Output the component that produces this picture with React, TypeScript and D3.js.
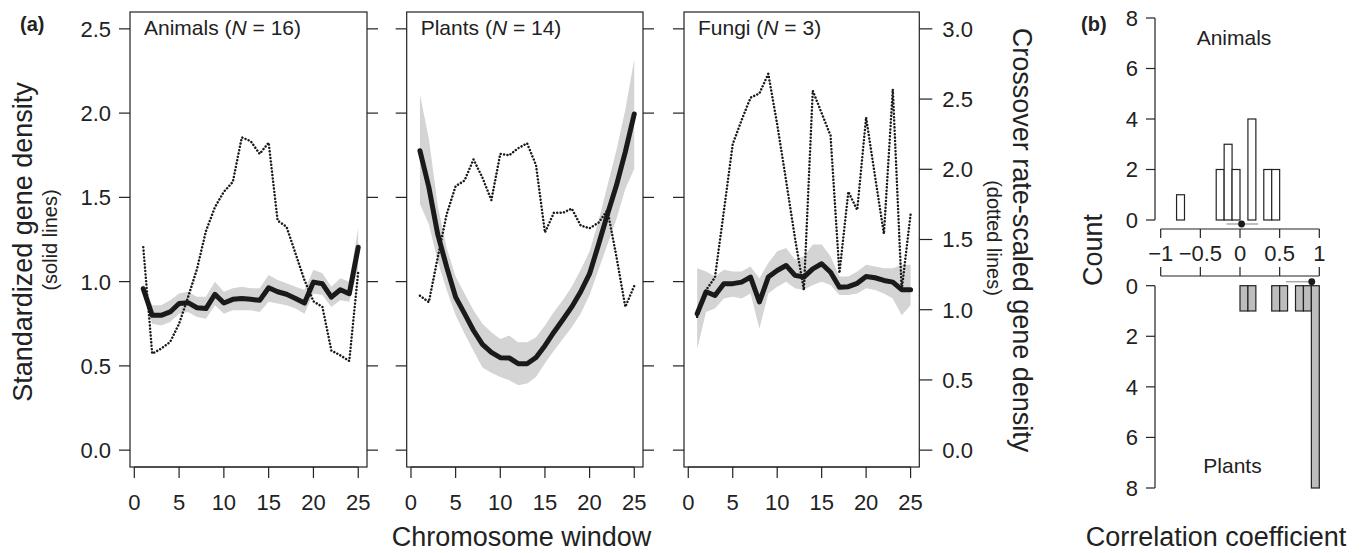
import * as d3 from "d3";

// ---------------------------------------------------------------------------
// DATA
// ---------------------------------------------------------------------------
const windows = [1, 2, 3, 4, 5, 6, 7, 8, 9, 10, 11, 12, 13, 14, 15, 16, 17, 18, 19, 20, 21, 22, 23, 24, 25];

// standardized gene density (solid), with its grey band
const animalsGene = [0.958, 0.8, 0.8, 0.82, 0.87, 0.875, 0.845, 0.84, 0.925, 0.873, 0.895, 0.9, 0.895, 0.889, 0.964, 0.94, 0.925, 0.9, 0.873, 0.997, 0.987, 0.908, 0.952, 0.928, 1.204];
const animalsLo = [0.92, 0.75, 0.74, 0.76, 0.81, 0.82, 0.79, 0.78, 0.86, 0.81, 0.83, 0.83, 0.83, 0.82, 0.88, 0.87, 0.86, 0.84, 0.81, 0.93, 0.92, 0.85, 0.89, 0.88, 1.08];
const animalsHi = [0.99, 0.86, 0.86, 0.89, 0.93, 0.94, 0.91, 0.91, 1.0, 0.94, 0.96, 0.97, 0.96, 0.96, 1.04, 1.01, 0.99, 0.97, 0.95, 1.07, 1.05, 0.97, 1.02, 1.0, 1.32];
// crossover rate-scaled gene density (dotted)
const animalsCross = [1.445, 0.687, 0.723, 0.77, 0.9, 1.09, 1.29, 1.56, 1.73, 1.84, 1.91, 2.227, 2.2, 2.11, 2.19, 1.635, 1.59, 1.4, 1.21, 1.06, 1.02, 0.71, 0.675, 0.635, 1.27];

const plantsGene = [1.777, 1.56, 1.28, 1.086, 0.908, 0.81, 0.71, 0.628, 0.58, 0.549, 0.547, 0.513, 0.513, 0.55, 0.62, 0.7, 0.774, 0.85, 0.94, 1.047, 1.22, 1.4, 1.57, 1.77, 1.995];
const plantsLo = [1.46, 1.34, 1.12, 0.95, 0.8, 0.69, 0.59, 0.49, 0.46, 0.434, 0.415, 0.385, 0.395, 0.434, 0.515, 0.59, 0.66, 0.73, 0.81, 0.92, 1.07, 1.22, 1.37, 1.55, 1.67];
const plantsHi = [2.11, 1.85, 1.45, 1.2, 1.03, 0.93, 0.83, 0.75, 0.7, 0.66, 0.68, 0.64, 0.64, 0.67, 0.74, 0.82, 0.89, 0.97, 1.07, 1.18, 1.36, 1.57, 1.78, 2.02, 2.32];
const plantsCross = [1.1, 1.054, 1.374, 1.68, 1.88, 1.92, 2.07, 1.94, 1.78, 2.11, 2.1, 2.15, 2.185, 2.03, 1.55, 1.69, 1.69, 1.72, 1.6, 1.58, 1.62, 1.71, 1.38, 1.02, 1.17];

const fungiGene = [0.81, 0.94, 0.918, 0.988, 0.988, 0.997, 1.027, 0.879, 1.027, 1.066, 1.096, 1.037, 1.027, 1.076, 1.106, 1.056, 0.967, 0.97, 0.99, 1.03, 1.023, 1.007, 0.997, 0.952, 0.952];
const fungiLo = [0.6, 0.82, 0.84, 0.9, 0.91, 0.9, 0.93, 0.72, 0.93, 0.97, 1.0, 0.96, 0.95, 0.98, 1.0, 0.98, 0.92, 0.92, 0.93, 0.96, 0.95, 0.93, 0.9, 0.8, 0.86];
const fungiHi = [1.08, 1.06, 1.03, 1.07, 1.06, 1.06, 1.09, 1.02, 1.11, 1.18, 1.2, 1.13, 1.15, 1.22, 1.22, 1.15, 1.03, 1.03, 1.06, 1.1, 1.09, 1.08, 1.08, 1.1, 1.1];
const fungiCross = [0.95, 1.14, 1.23, 1.7, 2.18, 2.35, 2.51, 2.54, 2.68, 2.32, 1.92, 1.51, 1.14, 2.56, 2.4, 2.24, 1.26, 1.84, 1.71, 2.37, 1.95, 1.54, 2.57, 1.14, 1.68];

const panelNames = ["Animals", "Plants", "Fungi"];
const panelN = [16, 14, 3];

const geneTicks = [0, 0.5, 1, 1.5, 2, 2.5];
const crossTicks = [0, 0.5, 1, 1.5, 2, 2.5, 3];
const windowTicks = [0, 5, 10, 15, 20, 25];

// (b) correlation histograms, bin width 0.1, bins given by their lower edge
const animalBins = [-0.8, -0.7, -0.6, -0.5, -0.4, -0.3, -0.2, -0.1, 0, 0.1, 0.2, 0.3, 0.4];
const animalCounts = [1, 0, 0, 0, 0, 2, 3, 2, 0, 4, 0, 2, 2];
const plantBins = [0, 0.1, 0.4, 0.5, 0.7, 0.8, 0.9];
const plantCounts = [1, 1, 1, 1, 1, 1, 8];
const animalMean = 0.02;
const animalCI = [-0.17, 0.23];
const plantMean = 0.905;
const plantCI = [0.58, 0.95];

const corrTicks = [-1, -0.5, 0, 0.5, 1];
const corrTickLabels = ["\u22121", "\u22120.5", "0", "0.5", "1"];
const countTicks = [0, 2, 4, 6, 8];

// ---------------------------------------------------------------------------
// LAYOUT
// ---------------------------------------------------------------------------
const W = 1362;
const H = 553;
const FONT = "'Liberation Sans', Arial, Helvetica, sans-serif";
const INK = "#222";
const BAND = "#d4d4d4";
const BAR = "#bdbdbd";
const TICK_FS = 22;
const TITLE_FS = 27;
const SUB_FS = 20;

const boxTop = 12;
const boxBottom = 467;
const panelX = [
  [130, 367],
  [406.7, 643],
  [684, 919.3],
];
const TICK = 11;

const yGene = d3.scaleLinear().domain([-0.1, 2.6]).range([boxBottom, boxTop]);
const yCross = d3.scaleLinear().domain([-0.12, 3.12]).range([boxBottom, boxTop]);

const panelData = [
  { gene: animalsGene, lo: animalsLo, hi: animalsHi, cross: animalsCross },
  { gene: plantsGene, lo: plantsLo, hi: plantsHi, cross: plantsCross },
  { gene: fungiGene, lo: fungiLo, hi: fungiHi, cross: fungiCross },
];

// panel b
const xCorr = d3.scaleLinear().domain([-1, 1]).range([1160.7, 1319.3]);
const yTop = d3.scaleLinear().domain([0, 8]).range([220, 18]);
const yBot = d3.scaleLinear().domain([0, 8]).range([285.7, 488]);
const bAxisX = 1155;
const binW = 0.1;

function Panel({ idx }: { idx: number }) {
  const [left, right] = panelX[idx];
  const d = panelData[idx];
  const x = d3.scaleLinear().domain([-0.48, 25.98]).range([left, right]);

  const band = d3
    .area<number>()
    .x((w) => x(w))
    .y0((_, i) => yGene(d.lo[i]))
    .y1((_, i) => yGene(d.hi[i]))(windows);
  const solid = d3
    .line<number>()
    .x((w) => x(w))
    .y((_, i) => yGene(d.gene[i]))(windows);
  const dotted = d3
    .line<number>()
    .x((w) => x(w))
    .y((_, i) => yCross(d.cross[i]))(windows);

  const last = idx === 2;

  return (
    <g>
      <path d={band ?? ""} fill={BAND} stroke="none" />
      <path d={solid ?? ""} fill="none" stroke="#1a1a1a" strokeWidth={5} strokeLinejoin="round" strokeLinecap="round" />
      <path
        d={dotted ?? ""}
        fill="none"
        stroke="#1a1a1a"
        strokeWidth={2.5}
        strokeLinecap="round"
        strokeDasharray="0.01 3.4"
      />

      <rect x={left} y={boxTop} width={right - left} height={boxBottom - boxTop} fill="none" stroke={INK} strokeWidth={1.2} />

      {/* left-side ticks (gene scale) */}
      {geneTicks.map((t) => (
        <line key={"l" + t} x1={left - TICK} x2={left} y1={yGene(t)} y2={yGene(t)} stroke={INK} strokeWidth={1.2} />
      ))}
      {idx === 0 &&
        geneTicks.map((t) => (
          <text key={"lt" + t} x={left - 19} y={yGene(t)} dy="0.36em" textAnchor="end" fontSize={TICK_FS} fill={INK}>
            {t.toFixed(1)}
          </text>
        ))}

      {/* right-side ticks */}
      {!last &&
        geneTicks.map((t) => (
          <line key={"r" + t} x1={right} x2={right + TICK} y1={yGene(t)} y2={yGene(t)} stroke={INK} strokeWidth={1.2} />
        ))}
      {last &&
        crossTicks.map((t) => (
          <g key={"rc" + t}>
            <line x1={right} x2={right + 13} y1={yCross(t)} y2={yCross(t)} stroke={INK} strokeWidth={1.2} />
            <text x={right + 23} y={yCross(t)} dy="0.36em" textAnchor="start" fontSize={TICK_FS} fill={INK}>
              {t.toFixed(1)}
            </text>
          </g>
        ))}

      {/* x axis */}
      <line x1={x(0)} x2={x(25)} y1={boxBottom} y2={boxBottom} stroke={INK} strokeWidth={1.2} />
      {windowTicks.map((t) => (
        <g key={"x" + t}>
          <line x1={x(t)} x2={x(t)} y1={boxBottom} y2={boxBottom + TICK} stroke={INK} strokeWidth={1.2} />
          <text x={x(t)} y={510} textAnchor="middle" fontSize={TICK_FS} fill={INK}>
            {t}
          </text>
        </g>
      ))}

      <text x={left + 14} y={35} fontSize={21} fill={INK}>
        {panelNames[idx]} (<tspan fontStyle="italic">N</tspan> = {panelN[idx]})
      </text>
    </g>
  );
}

function CorrPanel() {
  return (
    <g>
      {/* animals histogram (upward) */}
      {animalBins.map((b, i) => (
        <rect
          key={"a" + b}
          x={xCorr(b)}
          y={yTop(animalCounts[i])}
          width={xCorr(b + binW) - xCorr(b)}
          height={yTop(0) - yTop(animalCounts[i])}
          fill="#fff"
          stroke={INK}
          strokeWidth={1.2}
        />
      ))}
      {/* plants histogram (downward) */}
      {plantBins.map((b, i) => (
        <rect
          key={"p" + b}
          x={xCorr(b)}
          y={yBot(0)}
          width={xCorr(b + binW) - xCorr(b)}
          height={yBot(plantCounts[i]) - yBot(0)}
          fill={BAR}
          stroke={INK}
          strokeWidth={1.2}
        />
      ))}

      {/* means with intervals */}
      <line x1={xCorr(animalCI[0])} x2={xCorr(animalCI[1])} y1={yTop(0) + 4} y2={yTop(0) + 4} stroke="#aaa" strokeWidth={1.5} />
      <circle cx={xCorr(animalMean)} cy={yTop(0) + 4} r={3.4} fill="#1a1a1a" />
      <line x1={xCorr(plantCI[0])} x2={xCorr(plantCI[1])} y1={yBot(0) - 4} y2={yBot(0) - 4} stroke="#aaa" strokeWidth={1.5} />
      <circle cx={xCorr(plantMean)} cy={yBot(0) - 4} r={3.4} fill="#1a1a1a" />

      {/* count axes */}
      <line x1={bAxisX} x2={bAxisX} y1={yTop(8)} y2={yTop(0)} stroke={INK} strokeWidth={1.2} />
      <line x1={bAxisX} x2={bAxisX} y1={yBot(0)} y2={yBot(8)} stroke={INK} strokeWidth={1.2} />
      {countTicks.map((t) => (
        <g key={"c" + t}>
          <line x1={bAxisX - 9} x2={bAxisX} y1={yTop(t)} y2={yTop(t)} stroke={INK} strokeWidth={1.2} />
          <text x={bAxisX - 17} y={yTop(t)} dy="0.36em" textAnchor="end" fontSize={TICK_FS} fill={INK}>
            {t}
          </text>
          <line x1={bAxisX - 9} x2={bAxisX} y1={yBot(t)} y2={yBot(t)} stroke={INK} strokeWidth={1.2} />
          <text x={bAxisX - 17} y={yBot(t)} dy="0.36em" textAnchor="end" fontSize={TICK_FS} fill={INK}>
            {t}
          </text>
        </g>
      ))}

      {/* correlation axes (between the two histograms) */}
      <line x1={xCorr(-1)} x2={xCorr(1)} y1={229} y2={229} stroke={INK} strokeWidth={1.2} />
      <line x1={xCorr(-1)} x2={xCorr(1)} y1={276} y2={276} stroke={INK} strokeWidth={1.2} />
      {corrTicks.map((t, i) => (
        <g key={"k" + t}>
          <line x1={xCorr(t)} x2={xCorr(t)} y1={229} y2={238} stroke={INK} strokeWidth={1.2} />
          <line x1={xCorr(t)} x2={xCorr(t)} y1={267} y2={276} stroke={INK} strokeWidth={1.2} />
          <text x={xCorr(t)} y={261} textAnchor="middle" fontSize={TICK_FS} fill={INK}>
            {corrTickLabels[i]}
          </text>
        </g>
      ))}

      <text x={1234} y={45} textAnchor="middle" fontSize={21} fill={INK}>
        Animals
      </text>
      <text x={1232.5} y={473} textAnchor="middle" fontSize={21} fill={INK}>
        Plants
      </text>
      <text transform="translate(1102,250) rotate(-90)" textAnchor="middle" fontSize={TITLE_FS} fill={INK}>
        Count
      </text>
      <text x={1216} y={546} textAnchor="middle" fontSize={TITLE_FS} fill={INK}>
        Correlation coefficient
      </text>
      <text x={1081} y={31} fontSize={20} fontWeight="bold" fill={INK}>
        (b)
      </text>
    </g>
  );
}

export default function App() {
  return (
    <svg
      width={W}
      height={H}
      viewBox={`0 0 ${W} ${H}`}
      fontFamily={FONT}
      style={{ position: "absolute", left: 0, top: 0, background: "#fff", display: "block" }}
    >
      <rect x={0} y={0} width={W} height={H} fill="#fff" />

      {[0, 1, 2].map((i) => (
        <Panel key={i} idx={i} />
      ))}

      <text x={20} y={31} fontSize={20} fontWeight="bold" fill={INK}>
        (a)
      </text>

      {/* left axis titles */}
      <text transform="translate(32,242) rotate(-90)" textAnchor="middle" fontSize={TITLE_FS} fill={INK}>
        Standardized gene density
      </text>
      <text transform="translate(57,240) rotate(-90)" textAnchor="middle" fontSize={SUB_FS} fill={INK}>
        (solid lines)
      </text>

      {/* right axis titles */}
      <text transform="translate(1013,240) rotate(90)" textAnchor="middle" fontSize={TITLE_FS} fill={INK}>
        Crossover rate-scaled gene density
      </text>
      <text transform="translate(987,238) rotate(90)" textAnchor="middle" fontSize={SUB_FS} fill={INK}>
        (dotted lines)
      </text>

      <text x={521.5} y={546} textAnchor="middle" fontSize={TITLE_FS} fill={INK}>
        Chromosome window
      </text>

      <CorrPanel />
    </svg>
  );
}
